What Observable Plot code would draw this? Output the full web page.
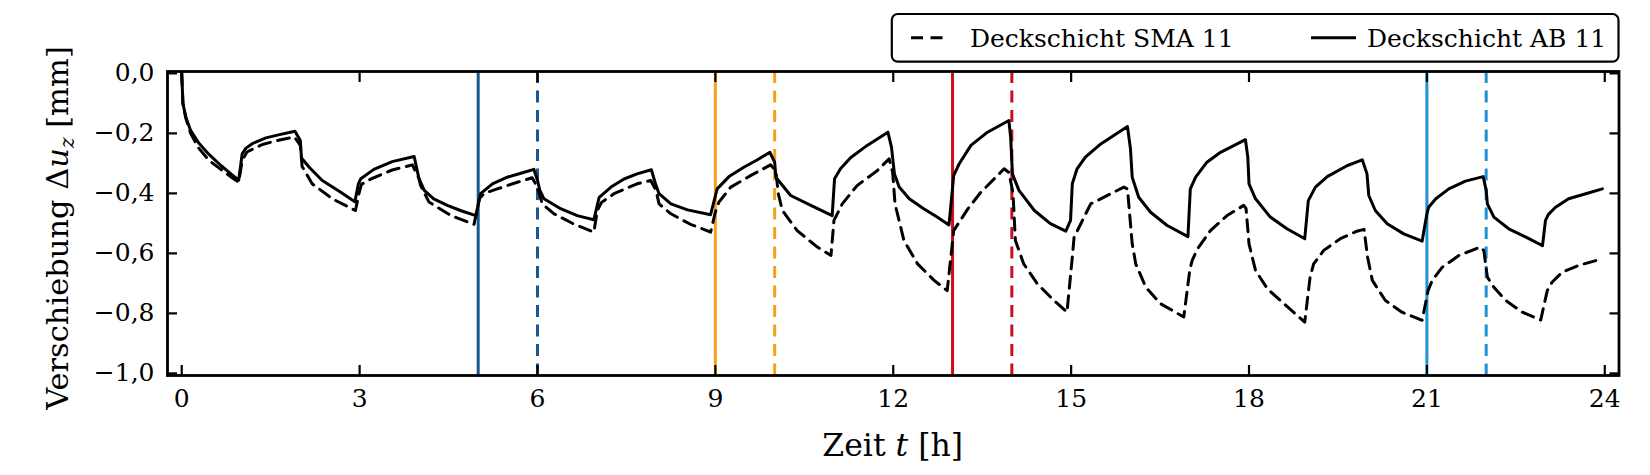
<!DOCTYPE html>
<html>
<head>
<meta charset="utf-8">
<script src="https://cdn.jsdelivr.net/npm/d3@7"></script>
<script src="https://cdn.jsdelivr.net/npm/@observablehq/plot@0.6"></script>
<style>
  body { margin: 0; background: #fff; }
  #chart { width: 1650px; height: 475px; }
</style>
</head>
<body>
<div id="chart"></div>
<script>
// ---- Data: Deckschicht AB 11 (solid) ----
const tAB = [0, 0.02, 0.07, 0.15, 0.29, 0.46, 0.66, 0.83, 0.96,
  1.02, 1.08, 1.20, 1.42, 1.65, 1.91, 2.00, 2.02, 2.15, 2.37, 2.65, 2.92,
  2.98, 3.02, 3.24, 3.55, 3.92, 4.00, 4.09, 4.25, 4.48, 4.70, 4.96,
  5.04, 5.24, 5.49, 5.72, 5.94, 6.00, 6.04, 6.11, 6.39, 6.67, 6.95,
  7.04, 7.24, 7.46, 7.68, 7.92, 7.99, 8.05, 8.25, 8.53, 8.92,
  9.03, 9.23, 9.48, 9.71, 9.92, 10.00, 10.02, 10.27, 10.61, 10.97,
  11.01, 11.11, 11.28, 11.56, 11.91, 11.97, 12.02, 12.10, 12.27, 12.52, 12.74, 12.94,
  13.02, 13.11, 13.31, 13.59, 13.95, 13.98, 14.01, 14.12, 14.38, 14.65, 14.91,
  14.99, 15.02, 15.10, 15.24, 15.50, 15.95, 16.00, 16.03, 16.14, 16.34, 16.62, 16.97,
  17.01, 17.10, 17.29, 17.52, 17.94, 17.98, 18.00, 18.11, 18.36, 18.64, 18.94,
  19.00, 19.12, 19.32, 19.66, 19.91, 19.99, 20.02, 20.13, 20.33, 20.61, 20.92,
  21.00, 21.03, 21.15, 21.37, 21.65, 21.95, 22.00, 22.02, 22.13, 22.38, 22.67, 22.95,
  23.00, 23.05, 23.17, 23.39, 23.68, 23.96];
const vAB = [0, -0.10, -0.146, -0.19, -0.233, -0.27, -0.307, -0.335, -0.356,
  -0.268, -0.25, -0.233, -0.215, -0.204, -0.193, -0.224, -0.282, -0.313, -0.357, -0.392, -0.428,
  -0.368, -0.351, -0.32, -0.294, -0.277, -0.35, -0.39, -0.418, -0.44, -0.457, -0.474,
  -0.401, -0.368, -0.346, -0.333, -0.32, -0.357, -0.39, -0.418, -0.451, -0.474, -0.488,
  -0.413, -0.379, -0.352, -0.335, -0.321, -0.368, -0.401, -0.435, -0.455, -0.471,
  -0.385, -0.344, -0.313, -0.288, -0.263, -0.296, -0.346, -0.407, -0.44, -0.474,
  -0.351, -0.318, -0.281, -0.24, -0.196, -0.246, -0.335, -0.379, -0.418, -0.452, -0.479, -0.505,
  -0.34, -0.302, -0.24, -0.196, -0.157, -0.213, -0.335, -0.39, -0.457, -0.501, -0.526,
  -0.49, -0.368, -0.318, -0.279, -0.235, -0.177, -0.25, -0.346, -0.413, -0.463, -0.507, -0.544,
  -0.385, -0.346, -0.296, -0.263, -0.221, -0.28, -0.368, -0.418, -0.479, -0.518, -0.551,
  -0.424, -0.379, -0.344, -0.307, -0.288, -0.335, -0.407, -0.457, -0.501, -0.535, -0.559,
  -0.468, -0.446, -0.418, -0.385, -0.359, -0.344, -0.39, -0.435, -0.479, -0.518, -0.546, -0.574,
  -0.49, -0.47, -0.446, -0.418, -0.401, -0.385];

// ---- Data: Deckschicht SMA 11 (dashed) ----
const tSMA = [0, 0.02, 0.07, 0.15, 0.29, 0.46, 0.66, 0.83, 0.96,
  1.02, 1.10, 1.36, 1.65, 1.90, 2.00, 2.03, 2.20, 2.54, 2.93,
  2.99, 3.03, 3.19, 3.55, 3.89, 4.00, 4.03, 4.17, 4.54, 4.93,
  5.02, 5.10, 5.32, 5.66, 5.91, 6.00, 6.08, 6.28, 6.62, 6.95,
  7.01, 7.08, 7.29, 7.68, 7.91, 8.00, 8.05, 8.25, 8.58, 8.92,
  9.00, 9.06, 9.26, 9.60, 9.93, 10.02, 10.06, 10.13, 10.38, 10.72, 10.95,
  11.00, 11.14, 11.39, 11.73, 11.93, 11.99, 12.03, 12.18, 12.41, 12.69, 12.91,
  13.02, 13.25, 13.47, 13.87, 13.95, 14.02, 14.06, 14.20, 14.43, 14.71, 14.93,
  15.02, 15.05, 15.33, 15.89, 15.95, 16.03, 16.09, 16.26, 16.51, 16.90,
  17.00, 17.04, 17.13, 17.35, 17.63, 17.91, 17.95, 18.00, 18.11, 18.31, 18.59, 18.94,
  19.03, 19.09, 19.26, 19.54, 19.82, 19.94, 20.00, 20.08, 20.30, 20.58, 20.92,
  21.02, 21.09, 21.26, 21.54, 21.90, 21.96, 22.02, 22.13, 22.33, 22.61, 22.92,
  23.03, 23.11, 23.28, 23.56, 23.96];
const vSMA = [0, -0.10, -0.15, -0.20, -0.25, -0.29, -0.32, -0.345, -0.362,
  -0.29, -0.262, -0.237, -0.222, -0.212, -0.24, -0.31, -0.368, -0.418, -0.457,
  -0.40, -0.37, -0.352, -0.322, -0.305, -0.35, -0.374, -0.429, -0.474, -0.503,
  -0.418, -0.40, -0.385, -0.363, -0.348, -0.38, -0.435, -0.468, -0.503, -0.529,
  -0.457, -0.43, -0.401, -0.368, -0.357, -0.39, -0.435, -0.468, -0.503, -0.529,
  -0.462, -0.429, -0.379, -0.34, -0.305, -0.324, -0.40, -0.457, -0.524, -0.579, -0.607,
  -0.49, -0.435, -0.374, -0.324, -0.285, -0.33, -0.435, -0.557, -0.635, -0.69, -0.724,
  -0.524, -0.454, -0.398, -0.318, -0.33, -0.40, -0.557, -0.635, -0.701, -0.757, -0.796,
  -0.612, -0.546, -0.435, -0.379, -0.385, -0.568, -0.635, -0.713, -0.768, -0.812,
  -0.657, -0.624, -0.585, -0.524, -0.474, -0.44, -0.45, -0.568, -0.657, -0.718, -0.768, -0.829,
  -0.679, -0.635, -0.59, -0.551, -0.526, -0.52, -0.613, -0.69, -0.757, -0.796, -0.823,
  -0.724, -0.69, -0.646, -0.607, -0.579, -0.59, -0.679, -0.713, -0.757, -0.796, -0.822,
  -0.724, -0.696, -0.663, -0.64, -0.618];

// ---- Event markers (vertical lines) ----
const eventHours  = [5, 6, 9, 10, 13, 14, 21, 22];
const eventColors = ["#1b5592", "#1b5592", "#f7a01c", "#f7a01c", "#c80f1e", "#c80f1e", "#1f90d6", "#1f90d6"];
const eventDashed = [false, true, false, true, false, true, false, true];

// ---- Axes ----
const xTicks = [0, 3, 6, 9, 12, 15, 18, 21, 24];
const yTicks = [0, -0.2, -0.4, -0.6, -0.8, -1.0];
const yTickLabels = ["0,0", "\u22120,2", "\u22120,4", "\u22120,6", "\u22120,8", "\u22121,0"];
const seriesLabels = ["Deckschicht SMA 11", "Deckschicht AB 11"];

const ab = tAB.map((t, i) => ({t, v: vAB[i]}));
const sma = tSMA.map((t, i) => ({t, v: vSMA[i]}));
const events = eventHours.map((t, i) => ({t, c: eventColors[i], dashed: eventDashed[i]}));

const W = 1650, H = 475;
const mL = 167, mR = 31.5, mT = 71, mB = 100;
const DASH = "12,7.5";
const LW = 3;
const TICKFS = 25;

const chart = Plot.plot({
  width: W, height: H,
  marginLeft: mL, marginRight: mR, marginTop: mT, marginBottom: mB,
  style: {fontFamily: "DejaVu Serif", fontSize: TICKFS + "px", color: "black", background: "white", overflow: "visible"},
  x: {domain: [-0.24, 24.24]},
  y: {domain: [-1.007, 0.0063]},
  color: {type: "identity"},
  marks: [
    Plot.ruleX(events.filter(d => !d.dashed), {x: "t", stroke: "c", strokeWidth: LW}),
    Plot.ruleX(events.filter(d => d.dashed), {x: "t", stroke: "c", strokeWidth: LW, strokeDasharray: DASH}),
    Plot.line(sma, {x: "t", y: "v", stroke: "black", strokeWidth: LW, strokeDasharray: DASH}),
    Plot.line(ab, {x: "t", y: "v", stroke: "black", strokeWidth: LW}),
    Plot.frame({stroke: "black", strokeWidth: 2.8}),
    // inward ticks on all four sides
    Plot.axisX(xTicks, {anchor: "bottom", tickSize: -10, strokeWidth: 2.2, tickFormat: () => "", label: null}),
    Plot.axisX(xTicks, {anchor: "top", tickSize: -10, strokeWidth: 2.2, tickFormat: () => "", label: null}),
    Plot.axisY(yTicks, {anchor: "left", tickSize: -10, strokeWidth: 2.2, tickFormat: () => "", label: null}),
    Plot.axisY(yTicks, {anchor: "right", tickSize: -10, strokeWidth: 2.2, tickFormat: () => "", label: null}),
    // tick labels
    Plot.axisX(xTicks, {anchor: "bottom", tickSize: 0, tickPadding: 14, tickFormat: d => String(d), label: null, fontSize: TICKFS}),
    Plot.axisY(yTicks, {anchor: "left", tickSize: 0, tickPadding: 13, tickFormat: d => yTickLabels[yTicks.indexOf(d)], label: null, fontSize: TICKFS})
  ]
});

const svg = d3.select(chart);

// x axis label: Zeit t [h]
const xl = svg.append("text")
  .attr("x", mL + (W - mL - mR) / 2).attr("y", 456)
  .attr("text-anchor", "middle").attr("font-size", 31.5).attr("fill", "black");
xl.append("tspan").text("Zeit ");
xl.append("tspan").attr("font-style", "italic").text("t");
xl.append("tspan").text(" [h]");

// y axis label: Verschiebung Δu_z [mm]
const yl = svg.append("text")
  .attr("transform", `translate(68,228) rotate(-90)`)
  .attr("text-anchor", "middle").attr("font-size", 30.5).attr("fill", "black");
yl.append("tspan").text("Verschiebung \u0394");
yl.append("tspan").attr("font-style", "italic").text("u");
yl.append("tspan").attr("font-style", "italic").attr("font-size", 20).attr("dy", 6).text("z");
yl.append("tspan").attr("dy", -6).text(" [mm]");

// legend
const lg = svg.append("g").attr("text-anchor", "start");
const lgX0 = 891.8, lgX1 = W - mR, lgY0 = 14, lgY1 = 61.7, lgYc = (lgY0 + lgY1) / 2;
lg.append("rect").attr("x", lgX0).attr("y", lgY0).attr("width", lgX1 - lgX0).attr("height", lgY1 - lgY0)
  .attr("rx", 6).attr("fill", "white").attr("stroke", "black").attr("stroke-width", 2.2);
lg.append("line").attr("x1", 911).attr("x2", 947).attr("y1", lgYc).attr("y2", lgYc)
  .attr("stroke", "black").attr("stroke-width", LW).attr("stroke-dasharray", DASH);
lg.append("text").attr("x", 970).attr("y", lgYc + 9).attr("text-anchor", "start")
  .attr("font-size", 25).attr("fill", "black").text(seriesLabels[0]);
lg.append("line").attr("x1", 1311).attr("x2", 1356).attr("y1", lgYc).attr("y2", lgYc)
  .attr("stroke", "black").attr("stroke-width", LW);
lg.append("text").attr("x", 1367).attr("y", lgYc + 9).attr("text-anchor", "start")
  .attr("font-size", 25).attr("fill", "black").text(seriesLabels[1]);

document.getElementById("chart").append(chart);
</script>
</body>
</html>
